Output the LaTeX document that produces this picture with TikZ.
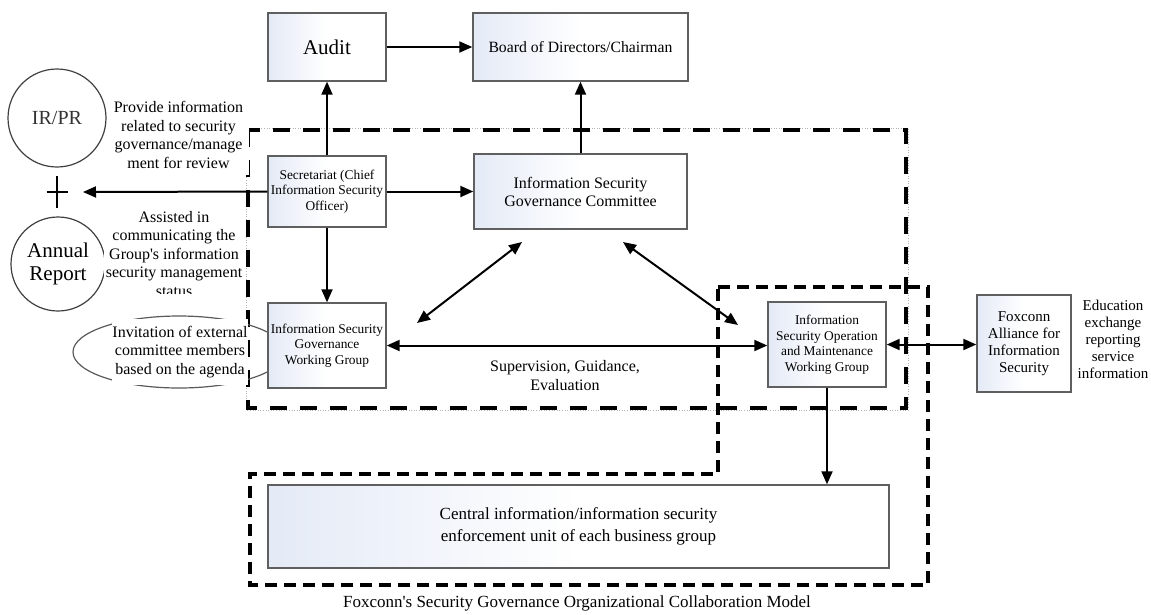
\documentclass[tikz,border=0pt]{standalone}
\usepackage{fontspec}
\setmainfont{Liberation Serif}
\usetikzlibrary{arrows.meta,shapes.geometric}
\newcommand{\setfs}[2]{\fontsize{#1}{#2}\selectfont}
\definecolor{boxline}{RGB}{95,95,95}
\definecolor{boxtint}{RGB}{228,234,246}
\begin{document}
\begin{tikzpicture}[x=1pt,y=-1pt,
  conn/.style={line width=2pt,-{Triangle[length=13pt,width=11pt]}},
  biconn/.style={line width=2pt,{Triangle[length=13pt,width=11pt]}-{Triangle[length=13pt,width=11pt]}},
  unitbox/.style={draw=boxline,line width=1.4pt,left color=boxtint,right color=white,middle color=white,
    inner sep=2pt,align=center,anchor=center},
  smalltext/.style={font=\setfs{13.4}{15.5}},
  lbl/.style={align=center,inner sep=0pt},
  bigzone/.style={line width=4pt,dash pattern=on 17pt off 13pt},
  opszone/.style={line width=3.6pt,dash pattern=on 12pt off 7pt},
  zoneedge/.style={line width=0.6pt,draw=black!30,dotted},
  roundnote/.style={circle,draw=black!75,line width=1.2pt,inner sep=0pt,align=center}]
\useasboundingbox (0,0) rectangle (1151,614);

% --- dashed zones ---
\draw[zoneedge] (246,128) rectangle (908,410);
\draw[bigzone] (248,130) rectangle (906,408);
\draw[opszone] (718,287) -- (928,287) -- (928,585) -- (250,585) -- (250,474) -- (718,474) -- cycle;

% --- disclosure side ---
\node[roundnote,minimum size=98pt,font=\setfs{20}{24},text=black!80] (irpr) at (57,118) {IR/PR};
\node[roundnote,minimum size=94pt,font=\setfs{21}{23}] (annual) at (58,264) {Annual\\Report};
\coordinate (plus) at (57,192);
\draw[line width=2pt] ([xshift=-10.5pt]plus) -- ([xshift=10.5pt]plus);
\draw[line width=2pt] ([yshift=16pt]plus) -- ([yshift=-16pt]plus);
\coordinate (plustip) at (83,192);

\node[lbl,fill=white,minimum width=141pt,minimum height=80pt,font=\setfs{16}{18.5}] (provide) at (178.5,135)
  {Provide information\\related to security\\governance/manage\\ment for review};
\begin{scope}
  \clip (100,203) rectangle (246,293.5);
  \node[lbl,fill=white,minimum width=140pt,minimum height=88pt,font=\setfs{16}{18.5}] (assist) at (174,254)
    {Assisted in\\communicating the\\Group\textquotesingle s information\\security management\\status};
\end{scope}

% --- external members callout ---
\node[ellipse,draw=black!65,line width=1.2pt,minimum width=212pt,minimum height=72pt] (inviteshape) at (179,352) {};
\node[lbl,fill=white,minimum width=136pt,minimum height=66pt,font=\setfs{16}{18.5}] (invite) at (180,352)
  {Invitation of external\\committee members\\based on the agenda};

% --- units ---
\node[unitbox,minimum width=118pt,minimum height=68pt,font=\setfs{21}{24}] (audit) at (327,47) {Audit};
\node[unitbox,minimum width=215pt,minimum height=68pt,font=\setfs{15.7}{18}] (board) at (580.5,47) {Board of Directors/Chairman};
\node[unitbox,smalltext,minimum width=118pt,minimum height=71pt] (secr) at (327,191.5)
  {Secretariat (Chief\\Information Security\\Officer)};
\node[unitbox,minimum width=213pt,minimum height=75pt,font=\setfs{16}{18}] (isgc) at (580.5,191.5)
  {Information Security\\Governance Committee};
\node[unitbox,smalltext,minimum width=118pt,minimum height=85pt] (wg) at (327,345.5)
  {Information Security\\Governance\\Working Group};
\node[unitbox,smalltext,minimum width=118pt,minimum height=85pt] (ops) at (827,344.5)
  {Information\\Security Operation\\and Maintenance\\Working Group};
\node[unitbox,minimum width=94pt,minimum height=97pt,font=\setfs{15}{17}] (alli) at (1024,343.5)
  {Foxconn\\Alliance for\\Information\\Security};
\node[unitbox,minimum width=621pt,minimum height=83pt,font=\setfs{17}{22}] (central) at (578.5,526.5)
  {Central information/information security\\enforcement unit of each business group};

% --- free labels ---
\node[lbl,font=\setfs{16}{19}] (superv) at (565,376) {Supervision, Guidance,\\Evaluation};
\node[lbl,font=\setfs{15}{17}] (edu) at (1113,339) {Education\\exchange\\reporting\\service\\information};
\node[lbl,font=\setfs{17}{20}] (caption) at (577,603) {Foxconn\textquotesingle s Security Governance Organizational Collaboration Model};

% --- connectors ---
\draw[conn] (audit.east) -- (board.west);
\draw[conn] (secr.north) -- (audit.south);
\draw[conn] (isgc.north) -- (board.south);
\draw[conn] (secr.east) -- (isgc.west);
\draw[conn] (secr.west) -- (plustip);
\draw[conn] (secr.south) -- (wg.north);
\coordinate (d1a) at (522,242);
\coordinate (d1b) at (417,323);
\coordinate (d2a) at (623,242);
\coordinate (d2b) at (738,325);
\draw[biconn] (d1a) -- (d1b);
\draw[biconn] (d2a) -- (d2b);
\draw[biconn] (wg.east) -- (wg.east -| ops.west);
\draw[biconn] (ops.east) -- (ops.east -| alli.west);
\draw[conn] (ops.south) -- (ops.south |- central.north);
\end{tikzpicture}
\end{document}
